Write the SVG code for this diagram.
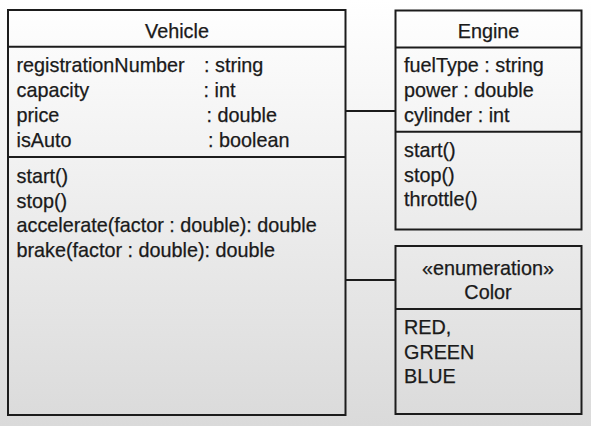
<svg xmlns="http://www.w3.org/2000/svg" width="591" height="426" viewBox="0 0 591 426">
<defs>
<linearGradient id="bg" x1="0" y1="0" x2="0" y2="1">
<stop offset="0" stop-color="#ffffff"/>
<stop offset="1" stop-color="#dadada"/>
</linearGradient>
</defs>
<style>
.box{fill:none;stroke:#1c1c1c;stroke-width:2}
.ln{stroke:#1c1c1c;stroke-width:2;fill:none}
text{font-family:"Liberation Sans",Arial,Helvetica,sans-serif;font-size:19.8px;fill:#1a1a1a;stroke:#1a1a1a;stroke-width:0.25}
.c{text-anchor:middle}
</style>
<rect x="0" y="0" width="591" height="426" fill="url(#bg)"/>
<g id="connectors">
<line class="ln" x1="345.5" y1="111" x2="395.5" y2="111"/>
<line class="ln" x1="345.5" y1="280" x2="395.5" y2="280"/>
</g>
<g id="vehicle">
<rect class="box" x="8" y="10" width="337.5" height="405"/>
<line class="ln" x1="8" y1="46.7" x2="345.5" y2="46.7"/>
<line class="ln" x1="8" y1="157" x2="345.5" y2="157"/>
<text class="c" x="177" y="37.5">Vehicle</text>
<text x="16.5" y="71.5">registrationNumber</text>
<text x="204" y="71.5">: string</text>
<text x="16.5" y="96.5">capacity</text>
<text x="203.5" y="96.5">: int</text>
<text x="16.5" y="121.5">price</text>
<text x="206.5" y="121.5">: double</text>
<text x="16.5" y="146.5">isAuto</text>
<text x="208" y="146.5">: boolean</text>
<text x="16.5" y="183">start()</text>
<text x="16.5" y="207.5">stop()</text>
<text x="16.5" y="232">accelerate(factor : double): double</text>
<text x="16.5" y="256.5">brake(factor : double): double</text>
</g>
<g id="engine">
<rect class="box" x="395.5" y="10.5" width="186" height="219"/>
<line class="ln" x1="395.5" y1="47.5" x2="581.5" y2="47.5"/>
<line class="ln" x1="395.5" y1="131.7" x2="581.5" y2="131.7"/>
<text class="c" x="488.5" y="37.5">Engine</text>
<text x="404" y="71.5">fuelType : string</text>
<text x="404" y="96.5">power : double</text>
<text x="404" y="121.5">cylinder : int</text>
<text x="404" y="156.5">start()</text>
<text x="404" y="181.5">stop()</text>
<text x="404" y="206">throttle()</text>
</g>
<g id="color">
<rect class="box" x="395.5" y="246" width="186" height="168"/>
<line class="ln" x1="395.5" y1="309" x2="581.5" y2="309"/>
<text class="c" x="488" y="275">«enumeration»</text>
<text class="c" x="488" y="298.5">Color</text>
<text x="404" y="334">RED,</text>
<text x="404" y="358.5">GREEN</text>
<text x="404" y="383">BLUE</text>
</g>
</svg>
